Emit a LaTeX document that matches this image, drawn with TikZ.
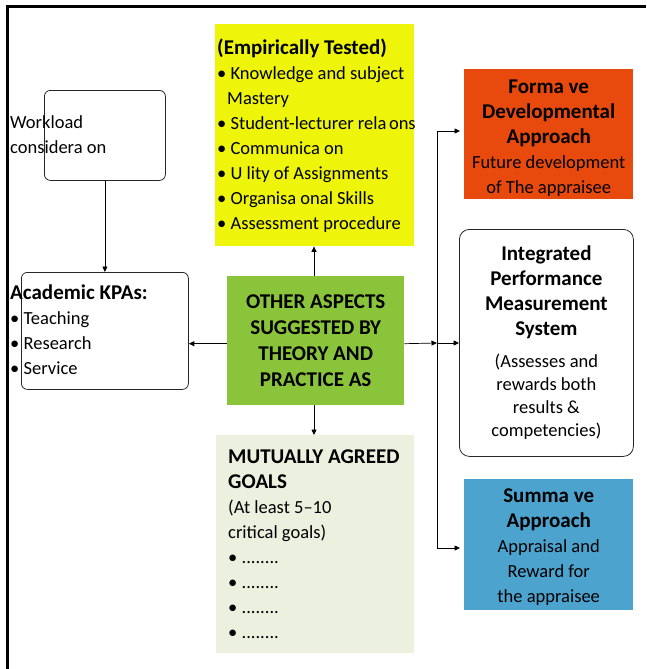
\documentclass[tikz,border=0pt]{standalone}
\usepackage{fontspec}
\setmainfont{Carlito}
\definecolor{apprYellow}{RGB}{238, 245, 10}
\definecolor{apprGreen}{RGB}{138, 196, 58}
\definecolor{apprPale}{RGB}{235, 241, 222}
\definecolor{apprOrange}{RGB}{232, 74, 14}
\definecolor{apprBlue}{RGB}{75, 163, 206}
\newcommand{\bfhead}[1]{{\fontsize{21}{25}\selectfont\bfseries #1}}
\usetikzlibrary{positioning, calc, arrows.meta}

\begin{document}
\begin{tikzpicture}[
    x=1pt, y=-1pt,
    font=\fontsize{18.5}{25}\selectfont,
    softbox/.style={rectangle, draw=black!85, line width=0.8pt, rounded corners=6pt,
                    anchor=north west},
    panel/.style={rectangle, inner sep=0pt, anchor=north west, align=center},
    note/.style={inner sep=0pt, anchor=west, align=flush left},
    link/.style={-{Triangle[length=5.5pt, width=5pt]}, line width=0.7pt}
  ]
    \useasboundingbox (0,0) rectangle (646,669);
    % frame
    \draw[line width=3pt] (7.5,669) -- (7.5,6.5) -- (646,6.5);

    % left column
    \node[softbox, minimum width=121pt, minimum height=90pt] (WL) at (44,90) {};
    \node[note] (WLtxt) at (10,135) {Workload\\considera on};
    \node[softbox, minimum width=167pt, minimum height=117pt] (AK) at (21,272) {};
    \node[note] (AKtxt) at (10,330)
      {\bfhead{Academic KPAs:}\\\textbullet\ Teaching\\\textbullet\ Research\\\textbullet\ Service};

    % middle column
    \node[panel, fill=apprYellow, minimum width=199pt, minimum height=222pt,
          inner xsep=2pt, text width=195pt, align=flush left] (YL) at (215,24)
      {\bfhead{(Empirically Tested)}\\
       \textbullet\ Knowledge and subject\\
       \hspace*{10pt}Mastery\\
       \mbox{\textbullet\ Student-lecturer rela\hspace{2.5pt}ons}\\
       \textbullet\ Communica on\\
       \textbullet\ U lity of Assignments\\
       \textbullet\ Organisa onal Skills\\
       \textbullet\ Assessment procedure};
    \node[panel, fill=apprGreen, minimum width=177pt, minimum height=129pt,
          font=\fontsize{21}{26}\selectfont\bfseries] (GR) at (227,276)
      {OTHER ASPECTS\\SUGGESTED BY\\THEORY AND\\PRACTICE AS};
    \node[panel, fill=apprPale, minimum width=198pt, minimum height=218pt,
          inner xsep=12pt, text width=174pt, align=flush left] (LG) at (216,435)
      {\bfhead{MUTUALLY AGREED}\\\bfhead{GOALS}\\(At least 5--10\\critical goals)\\
       \textbullet\ ........\\\textbullet\ ........\\\textbullet\ ........\\\textbullet\ ........};

    % right column
    \node[panel, fill=apprOrange, minimum width=169pt, minimum height=130pt] (OR) at (464,69)
      {\bfhead{\rule{0pt}{21pt}Forma ve}\\\bfhead{Developmental}\\\bfhead{Approach}\\Future development\\of The appraisee};
    \node[softbox, rounded corners=10pt, minimum width=174pt, minimum height=227pt,
          inner sep=0pt, align=center] (IP) at (459,229)
      {\bfhead{Integrated}\\\bfhead{Performance}\\\bfhead{Measurement}\\\bfhead{System}\\[7pt]
       (Assesses and\\[-2pt]rewards both\\[-2pt]results \&\\[-2pt]competencies)};
    \node[panel, fill=apprBlue, minimum width=169pt, minimum height=131pt] (BL) at (464,479)
      {\bfhead{\rule{0pt}{19pt}Summa ve}\\\bfhead{Approach}\\Appraisal and\\Reward for\\the appraisee};

    % connectors
    \coordinate (BUS) at (437,343);
    \draw[link] (WL.south) -- (WL.south |- AK.north);
    \draw[link] ([yshift=-3pt]GR.west) -- ([yshift=-3pt]GR.west -| AK.east);
    \draw[link] (GR.north -| 314,0) -- (YL.south -| 314,0);
    \draw[link] (GR.south -| 314,0) -- (LG.north -| 314,0);
    \draw[link] ([yshift=-3pt]GR.east) -- (BUS);
    \draw[line width=0.7pt] (BUS |- 0,131) -- (BUS |- 0,548);
    \draw[link] (BUS |- 0,131) -- (460,131);
    \draw[link] (BUS) -- (IP.west |- BUS);
    \draw[link] (BUS |- 0,548) -- (460,548);
  \end{tikzpicture}
\end{document}
